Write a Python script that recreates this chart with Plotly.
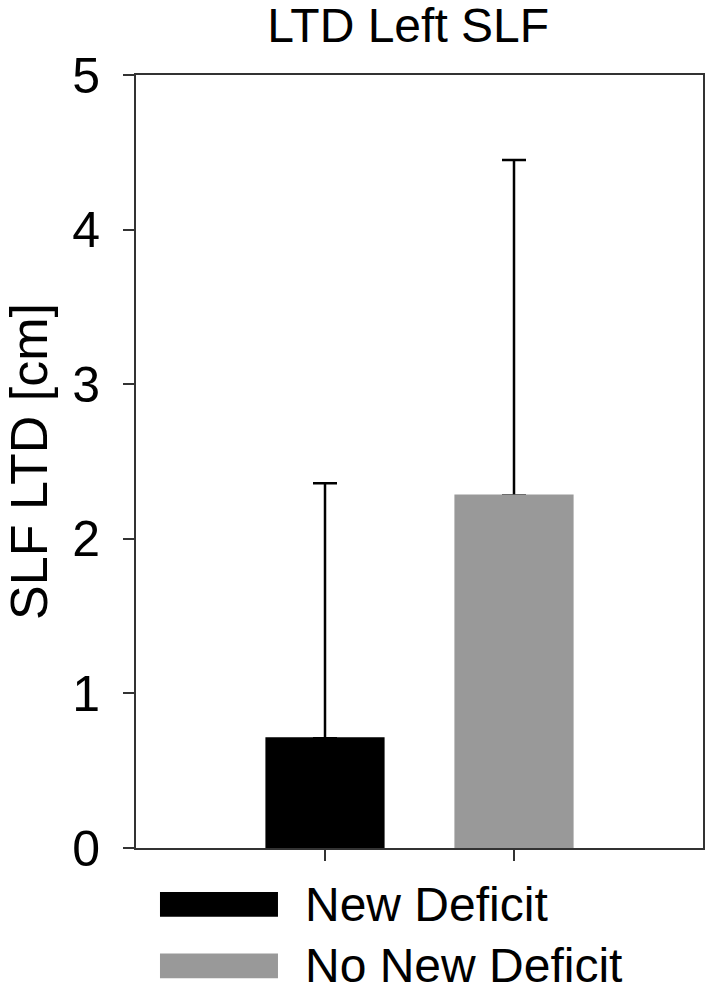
import plotly.graph_objects as go

groups = ["New Deficit", "No New Deficit"]
ltd_mean = [0.71, 2.28]
ltd_sd = [1.65, 2.17]
bar_colors = ["#000000", "#999999"]

FONT = "Liberation Sans, Arial, sans-serif"

fig = go.Figure()

# bars with upper error bars only
fig.add_trace(go.Bar(
    x=groups, y=ltd_mean,
    marker=dict(color=bar_colors, line=dict(width=0)),
    width=0.62,
    error_y=dict(type="data", symmetric=False, array=ltd_sd, arrayminus=[0, 0],
                 color="#000000", thickness=2.5, width=12),
    showlegend=False, hoverinfo="skip"))

# same bars again on top, to hide the lower caps of the error bars
fig.add_trace(go.Bar(
    x=groups, y=ltd_mean,
    marker=dict(color=bar_colors, line=dict(color=bar_colors, width=2)),
    width=0.62,
    showlegend=False))

# legend drawn by hand (big swatches like the original)
leg_y = [-0.073, -0.1525]
for name, col, yy in zip(groups, bar_colors, leg_y):
    fig.add_shape(type="rect", xref="paper", yref="paper",
                  x0=0.0423, x1=0.2504, y0=yy - 0.016, y1=yy + 0.016,
                  fillcolor=col, line=dict(width=0))
    fig.add_annotation(text=name, xref="paper", yref="paper", x=0.2946, y=yy,
                       xanchor="left", yanchor="middle", showarrow=False,
                       font=dict(size=48, color="#000000", family=FONT))

fig.update_layout(
    width=708, height=992,
    margin=dict(l=136, r=5, t=75, b=144, autoexpand=False),
    plot_bgcolor="white", paper_bgcolor="white",
    barmode="overlay",
    font=dict(family=FONT, color="#000000"),
    title=dict(text="LTD Left SLF", x=0.48, xref="paper", xanchor="center",
               y=0.9745, yref="container", yanchor="middle",
               font=dict(size=48, color="#000000")),
    xaxis=dict(range=[-1, 2], showticklabels=False, ticks="outside", ticklen=11,
               tickwidth=2, tickcolor="#333333", showgrid=False, zeroline=False,
               showline=True, linecolor="#333333", linewidth=2, mirror=True,
               automargin=False),
    yaxis=dict(range=[0, 5], tickvals=[0, 1, 2, 3, 4, 5], ticks="outside", ticklen=11,
               tickwidth=2, tickcolor="#333333", showgrid=False, zeroline=False,
               showline=True, linecolor="#333333", linewidth=2, mirror=True,
               automargin=False,
               tickfont=dict(size=50, color="#000000"), ticklabelstandoff=13,
               title=dict(text="SLF LTD [cm]", standoff=52,
                          font=dict(size=52, color="#000000"))),
)

# page body has a default 8px margin; drop it so the figure sits at 0,0
fig.write_html("out.html", config={"displayModeBar": False},
               post_script="document.body.style.margin='0';")
